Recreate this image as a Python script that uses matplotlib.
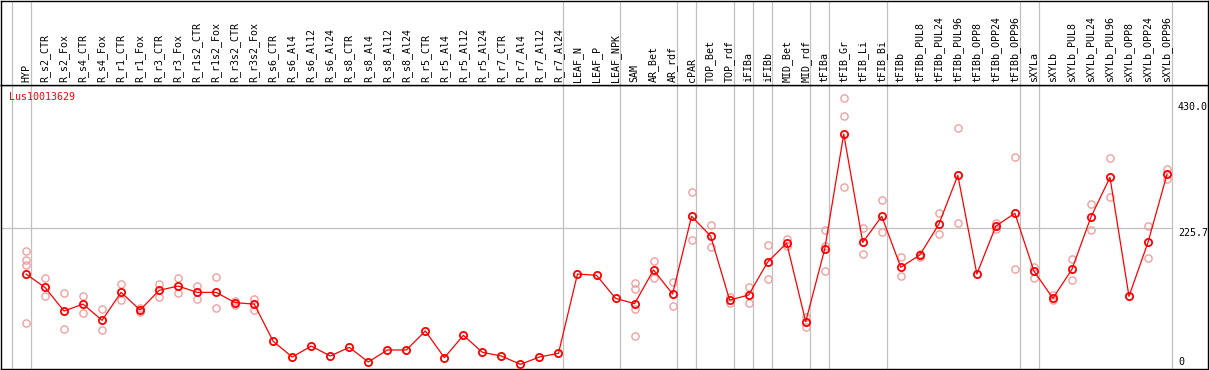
import matplotlib
matplotlib.use("Agg")
from matplotlib import pyplot as plt
from matplotlib import transforms

# sample names
labels = ['HYP', 'R_s2_CTR', 'R_s2_Fox', 'R_s4_CTR', 'R_s4_Fox', 'R_r1_CTR', 'R_r1_Fox',
          'R_r3_CTR', 'R_r3_Fox', 'R_r1s2_CTR', 'R_r1s2_Fox', 'R_r3s2_CTR', 'R_r3s2_Fox',
          'R_s6_CTR', 'R_s6_Al4', 'R_s6_Al12', 'R_s6_Al24', 'R_s8_CTR', 'R_s8_Al4',
          'R_s8_Al12', 'R_s8_Al24', 'R_r5_CTR', 'R_r5_Al4', 'R_r5_Al12', 'R_r5_Al24',
          'R_r7_CTR', 'R_r7_Al4', 'R_r7_Al12', 'R_r7_Al24', 'LEAF_N', 'LEAF_P', 'LEAF_NPK',
          'SAM', 'AR_Bet', 'AR_rdf', 'cPAR', 'TOP_Bet', 'TOP_rdf', 'iFIBa', 'iFIBb',
          'MID_Bet', 'MID_rdf', 'tFIBa', 'tFIB_Gr', 'tFIB_Li', 'tFIB_Bi', 'tFIBb',
          'tFIBb_PUL8', 'tFIBb_PUL24', 'tFIBb_PUL96', 'tFIBb_OPP8', 'tFIBb_OPP24',
          'tFIBb_OPP96', 'sXYLa', 'sXYLb', 'sXYLb_PUL8', 'sXYLb_PUL24', 'sXYLb_PUL96',
          'sXYLb_OPP8', 'sXYLb_OPP24', 'sXYLb_OPP96']

# mean expression per sample
means = [150.8, 129, 90.8, 102, 75.7, 121, 92.4, 124.3, 131.3, 121, 121, 104.3, 102,
         41.6, 16.2, 34, 17.8, 31.9, 8.1, 27.6, 27.6, 58.4, 15.1, 51.4, 23.8,
         17.8, 4.3, 16.2, 22.2, 150.8, 148.7, 111.4,
         102.7, 157.3, 118.4, 244.3, 212.4, 108.6, 116.7, 170.3,
         201, 73.5, 191.3, 377.8, 202.2, 244.3, 161.7,
         181.6, 231.4, 310.8, 150.8, 228.6, 249.2,
         155.7, 111.4, 158.4, 243.2, 307.6, 114.6, 202.2, 312.5]

# replicate values (empty where they sit under the mean)
reps = [[188, 173.5, 165, 72], [143.8, 115], [119.5, 61], [115, 87], [93.5, 60],
        [134.6, 108.6], [95, 88.7], [134.6, 113], [144.8, 119.5], [131.3, 110.8],
        [146, 95], [107.5, 101], [110.8, 91.9],
        [], [], [], [], [], [], [], [], [], [], [], [], [], [], [], [],
        [], [], [],
        [135.7, 127, 94.6, 49.7], [171.4, 143.8], [137.8, 98.4], [283.8, 205.4],
        [230.3, 194], [114, 103.2], [129.7, 103.8], [197.8, 142],
        [207, 195.7], [80.6, 64.4], [222, 196, 155.7], [435.7, 407, 291.9],
        [224.9, 183.2], [270.8, 218.4], [178.9, 147.6],
        [178.9, 184], [249.2, 215.2], [387, 233], [], [234, 223.3], [340, 158.4],
        [161.7, 143.8], [116.7, 108.6], [174.6, 140.6], [263.8, 221.6], [338.4, 275.2],
        [], [228.6, 176.3], [321, 304.9]]

group_ends = [-1, 0, 28, 31, 34, 35, 37, 38, 39, 41, 42, 45, 52, 53, 60]
ref_value = 225.7
top_value = 430.0

W, H = 1209, 370
fig = plt.figure(figsize=(W / 100, H / 100), dpi=100)
mono = 'DejaVu Sans Mono'
fs = 7.2

x = list(range(len(labels)))
xlim = (-25 / 19.017, (1208 - 26) / 19.017)

ax = fig.add_axes([1 / W, 1 / H, 1207 / W, 284 / H])
axt = fig.add_axes([1 / W, 285 / H, 1207 / W, 84.5 / H])

for a in (ax, axt):
    a.set_xlim(*xlim)
    a.set_xticks([])
    a.set_yticks([])
    for s in a.spines.values():
        s.set_color('black')
        s.set_linewidth(1.0)
    for g in group_ends:
        a.axvline(g + 0.25, color='#c0c0c0', lw=0.9, zorder=1)

ax.set_ylim(-3.24, 457.3)
axt.set_ylim(0, 1)

ax.hlines(ref_value, xlim[0], 60.25, color='#c0c0c0', lw=0.9, zorder=1)

# replicates
for i, r in enumerate(reps):
    if r:
        ax.plot([i] * len(r), r, 'o', ms=5.2, mfc='none', mec='#f0a0a0', mew=1.0, zorder=2)

ax.plot(x, means, '-', color='red', lw=0.9, zorder=3)
ax.plot(x, means, 'o', ms=5.2, mfc='none', mec='red', mew=1.3, zorder=4)

for i, lab in enumerate(labels):
    axt.text(i, 0.035, lab, rotation=90, ha='center', va='bottom',
             family=mono, fontsize=fs, color='black')

ax.text(8 / 1207, 0.958, 'Lus10013629', transform=ax.transAxes, color='red',
        family=mono, fontsize=fs, ha='left', va='center')

tr = transforms.blended_transform_factory(ax.transAxes, ax.transData)
xr = (1178 - 1) / 1207
ax.text(xr, top_value, '430.0', transform=tr, family=mono, fontsize=fs, ha='left', va='top')
ax.text(xr, ref_value, '225.7', transform=tr, family=mono, fontsize=fs, ha='left', va='top')
ax.text(xr, 0, '0', transform=tr, family=mono, fontsize=fs, ha='left', va='bottom')

fig.savefig('out.png', dpi=100)
